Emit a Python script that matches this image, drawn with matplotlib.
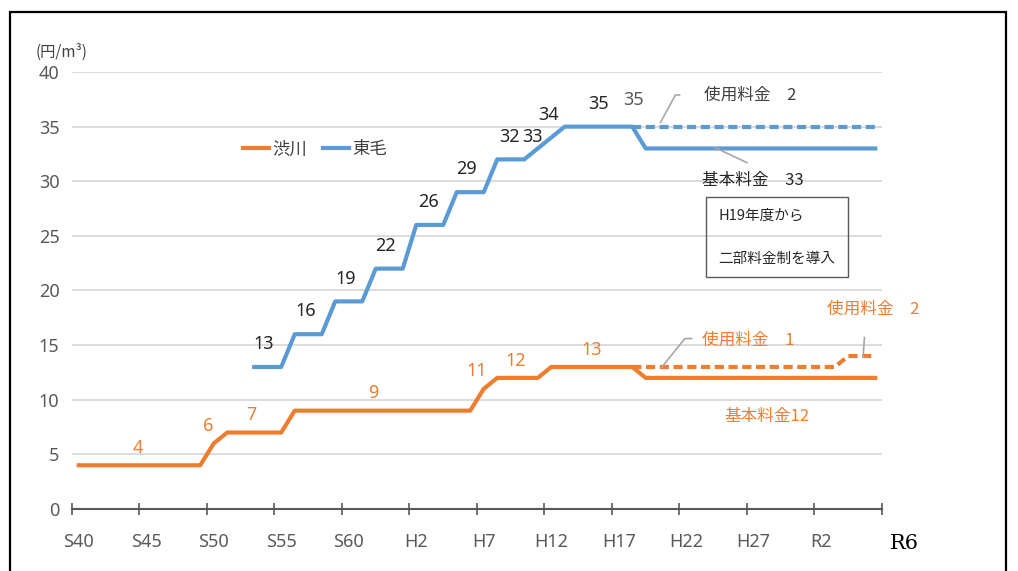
import numpy as np
import matplotlib
matplotlib.use('Agg')
import matplotlib.pyplot as plt
from matplotlib import font_manager
from matplotlib.patches import Rectangle

# fiscal years S40 (1965) .. R6 (2024), one category per year
tick_labels = ['S40', 'S45', 'S50', 'S55', 'S60', 'H2', 'H7',
               'H12', 'H17', 'H22', 'H27', 'R2']
last_label = 'R6'
nan = np.nan

# 渋川 (基本料金 / 使用料金 after H19)
shibukawa = [4, 4, 4, 4, 4, 4, 4, 4, 4, 4,
             6, 7, 7, 7, 7, 7, 9, 9, 9, 9,
             9, 9, 9, 9, 9, 9, 9, 9, 9, 9,
             11, 12, 12, 12, 12, 13, 13, 13, 13, 13,
             13, 13, 12, 12, 12, 12, 12, 12, 12, 12,
             12, 12, 12, 12, 12, 12, 12, 12, 12, 12]
shibukawa_use = [nan] * 41 + [13] * 16 + [14] * 3

# 東毛
tomo = [nan, nan, nan, nan, nan, nan, nan, nan, nan, nan,
        nan, nan, nan, 13, 13, 13, 16, 16, 16, 19,
        19, 19, 22, 22, 22, 26, 26, 26, 29, 29,
        29, 32, 32, 32, 33, 34, 35, 35, 35, 35,
        35, 35, 33, 33, 33, 33, 33, 33, 33, 33,
        33, 33, 33, 33, 33, 33, 33, 33, 33, 33]
tomo_use = [nan] * 41 + [35] * 19

# value labels: (category position, value, text)
tomo_labels = [(13.7, 13, '13'), (16.8, 16, '16'), (19.8, 19, '19'),
               (22.7, 22, '22'), (25.9, 26, '26'), (28.7, 29, '29'),
               (31.9, 32, '32'), (33.6, 32, '33'), (34.8, 34, '34'),
               (38.5, 35, '35')]
shibu_labels = [(4.4, 4, '4'), (9.6, 6, '6'), (12.8, 7, '7'), (21.8, 9, '9'),
                (29.5, 11, '11'), (32.4, 12, '12'), (38.0, 13, '13')]

ORANGE = '#ED7D31'
BLUE = '#5B9BD5'
GRAY = '#595959'

names = {f.name for f in font_manager.fontManager.ttflist}
num_font = 'Liberation Sans Narrow' if 'Liberation Sans Narrow' in names else 'Noto Sans'
JP = ['Noto Sans CJK JP', 'DejaVu Sans']
NUM = [num_font, 'Noto Sans CJK JP', 'DejaVu Sans']
plt.rcParams['font.family'] = NUM

fig = plt.figure(figsize=(10.18, 5.71), dpi=100)
ax = fig.add_axes([0.0707, 0.1086, 0.7957, 0.7653])

cats = np.arange(len(shibukawa))
dash = dict(lw=3, dashes=(2.2, 1.1), dash_capstyle='butt')
ax.plot(cats, np.array(shibukawa_use, float), color=ORANGE, **dash)
ax.plot(cats, np.array(tomo_use, float), color=BLUE, **dash)
ax.plot(cats, np.array(shibukawa, float), color=ORANGE, lw=3,
        solid_joinstyle='round', label='渋川')
ax.plot(cats, np.array(tomo, float), color=BLUE, lw=3,
        solid_joinstyle='round', label='東毛')

for x, v, t in tomo_labels:
    ax.annotate(t, (x, v), xytext=(0, 10), textcoords='offset points',
                ha='center', va='bottom', fontsize=13, color='#262626')
ax.annotate('35', (41.1, 35), xytext=(0, 13), textcoords='offset points',
            ha='center', va='bottom', fontsize=13, color=GRAY)
for x, v, t in shibu_labels:
    ax.annotate(t, (x, v), xytext=(0, 6), textcoords='offset points',
                ha='center', va='bottom', fontsize=13, color=ORANGE)

# annotations for the two-part tariff
ax.plot([44.5, 44.2, 43.1], [37.9, 37.9, 35.4], color='#A6A6A6', lw=1.2)
ax.text(46.3, 37.9, '使用料金　2', family=JP, fontsize=12, color='#404040',
        va='center', ha='left')
ax.plot([47.1, 49.5], [33.1, 31.7], color='#A6A6A6', lw=1.2)
ax.text(46.2, 30.1, '基本料金　33', family=JP, fontsize=12, color='#262626',
        va='center', ha='left')
ax.add_patch(Rectangle((0.783, 0.532), 0.175, 0.181, transform=ax.transAxes,
                       fill=False, edgecolor=GRAY, lw=1))
ax.text(0.798, 0.672, 'H19年度から', transform=ax.transAxes, family=JP,
        fontsize=10.5, color='#262626', va='center')
ax.text(0.798, 0.573, '二部料金制を導入', transform=ax.transAxes, family=JP,
        fontsize=10.5, color='#262626', va='center')

ax.plot([45.4, 44.9, 43.2], [15.6, 15.6, 13.0], color='#A6A6A6', lw=1.2)
ax.text(46.2, 15.4, '使用料金　1', family=JP, fontsize=12, color=ORANGE,
        va='center', ha='left')
ax.text(47.8, 8.5, '基本料金12', family=JP, fontsize=12, color=ORANGE,
        va='center', ha='left')
ax.plot([58.2, 58.1], [15.7, 13.9], color='#A6A6A6', lw=1.2)
ax.text(55.4, 18.3, '使用料金　2', family=JP, fontsize=12, color=ORANGE,
        va='center', ha='left')

ax.set_xlim(-0.5, 59.5)
ax.set_ylim(0, 40)
ax.set_yticks(np.arange(0, 41, 5))
ax.tick_params(axis='y', length=0, pad=9, labelsize=13, labelcolor=GRAY)
ax.set_xticks(np.arange(-0.5, 60, 5))
ax.set_xticklabels([])
ax.set_xticks(np.arange(0, 60, 5), minor=True)
ax.set_xticklabels(tick_labels, minor=True)
ax.tick_params(axis='x', which='major', direction='inout', length=9,
               width=1.2, color=GRAY)
ax.tick_params(axis='x', which='minor', length=0, pad=17, labelsize=13,
               labelcolor=GRAY)
ax.grid(axis='y', color='#D9D9D9', lw=1.3)
ax.set_axisbelow(True)
for s in ['top', 'right', 'left']:
    ax.spines[s].set_visible(False)
ax.spines['bottom'].set_color(GRAY)
ax.spines['bottom'].set_linewidth(1.5)

ax.text(-0.045, 1.045, '(円/m³)', transform=ax.transAxes, family=JP,
        fontsize=11, color='#404040', va='center', ha='left')
fig.text(0.888, 0.049, last_label, family=['DejaVu Serif'], fontsize=15,
         color='black', va='center', ha='center')

ax.legend(loc='center left', bbox_to_anchor=(0.2, 0.823), ncol=2,
          frameon=False, prop={'family': JP, 'size': 12.5},
          handlelength=1.5, handletextpad=0.2, columnspacing=0.9,
          borderpad=0, labelcolor='#404040')

fig.patches.append(Rectangle((0.0098, -0.05), 0.978, 1.029,
                             transform=fig.transFigure, fill=False,
                             edgecolor='black', lw=1.6))

fig.savefig('out.png', dpi=100)
